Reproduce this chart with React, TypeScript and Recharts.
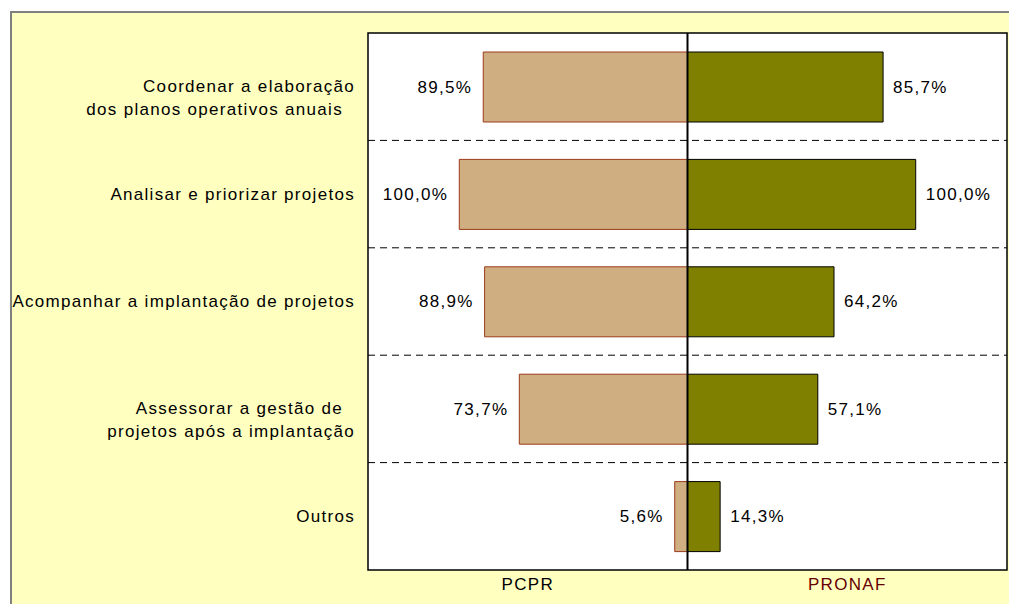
import React from "react";
import {
  BarChart,
  Bar,
  XAxis,
  YAxis,
  CartesianGrid,
  ReferenceLine,
  ReferenceArea,
  LabelList,
} from "recharts";

const categories: string[] = [
  "Coordenar a elaboração\ndos planos operativos anuais  ",
  "Analisar e priorizar projetos",
  "Acompanhar a implantação de projetos",
  "Assessorar a gestão de  \nprojetos após a implantação",
  "Outros",
];
const pcprValues: number[] = [89.5, 100.0, 88.9, 73.7, 5.6];
const pronafValues: number[] = [85.7, 100.0, 64.2, 57.1, 14.3];
const seriesNames: string[] = ["PCPR", "PRONAF"];
const seriesTickValues: number[] = [-70, 70];

const data = categories.map((c, i) => ({
  cat: c,
  PCPR: -pcprValues[i],
  PRONAF: pronafValues[i],
}));

const FONT = "'Liberation Sans', Arial, sans-serif";
const FS = 17;
const LS = 1.3;

const fmt = (v: number) => Math.abs(v).toFixed(1).replace(".", ",") + "%";

const CategoryTick = (props: any) => {
  const { x, y, payload } = props;
  const lines = String(payload.value).split("\n");
  return (
    <g>
      {lines.map((l, i) => (
        <text
          key={i}
          x={x}
          y={y + i * 23}
          textAnchor="end"
          dominantBaseline="central"
          fontFamily={FONT}
          fontSize={FS}
          fill="#000"
          style={{ letterSpacing: LS, whiteSpace: "pre" }}
        >
          {l}
        </text>
      ))}
    </g>
  );
};

const SeriesTick = (props: any) => {
  const { x, y, payload } = props;
  const i = seriesTickValues.indexOf(payload.value);
  return (
    <text
      x={x}
      y={y}
      textAnchor="middle"
      dominantBaseline="central"
      fontFamily={FONT}
      fontSize={FS}
      fill={i === 1 ? "#660000" : "#000"}
      style={{ letterSpacing: LS }}
    >
      {seriesNames[i]}
    </text>
  );
};

const leftLabel = (props: any) => {
  const { x, y, width, height, value } = props;
  const left = Math.min(x, x + width);
  return (
    <text
      x={left - 11}
      y={y + height / 2}
      textAnchor="end"
      dominantBaseline="central"
      fontFamily={FONT}
      fontSize={FS}
      fill="#000"
      style={{ letterSpacing: LS }}
    >
      {fmt(value)}
    </text>
  );
};

const rightLabel = (props: any) => {
  const { x, y, width, height, value } = props;
  const right = Math.max(x, x + width);
  return (
    <text
      x={right + 10}
      y={y + height / 2}
      textAnchor="start"
      dominantBaseline="central"
      fontFamily={FONT}
      fontSize={FS}
      fill="#000"
      style={{ letterSpacing: LS }}
    >
      {fmt(value)}
    </text>
  );
};

// dashed separators on the boundaries between category bands
const bandBoundaries = (args: any): number[] => {
  const off = (args && args.offset) || {};
  const top = typeof off.top === "number" ? off.top : 33;
  const h = typeof off.height === "number" ? off.height : 537;
  const n = categories.length;
  return categories.slice(1).map((_, k) => top + (h * (k + 1)) / n);
};

export default function App() {
  return (
    <div
      style={{
        position: "relative",
        width: 1009,
        height: 604,
        overflow: "hidden",
        background: "#ffffff",
      }}
    >
      <style>{"body{margin:0;overflow:hidden}"}</style>
      <div
        style={{
          position: "absolute",
          left: 10,
          top: 11,
          width: 1100,
          height: 700,
          background: "#FFFFC0",
          border: "2px solid #808080",
          boxSizing: "border-box",
        }}
      />
      <div style={{ position: "absolute", left: 0, top: 0 }}>
        <BarChart
          width={1009}
          height={604}
          data={data}
          layout="vertical"
          stackOffset="sign"
          margin={{ top: 33, right: 2, bottom: 0, left: 0 }}
        >
          <CartesianGrid
            horizontal={true}
            vertical={false}
            fill="#ffffff"
            fillOpacity={1}
            stroke="#000"
            strokeDasharray="7 5"
            horizontalCoordinatesGenerator={bandBoundaries}
          />
          <XAxis
            type="number"
            domain={[-140, 140]}
            ticks={seriesTickValues}
            height={34}
            axisLine={false}
            tickLine={false}
            tickMargin={8}
            tick={<SeriesTick />}
          />
          <YAxis
            type="category"
            dataKey="cat"
            width={368}
            axisLine={false}
            tickLine={false}
            tickMargin={7}
            interval={0}
            tick={<CategoryTick />}
          />
          <ReferenceArea
            x1={-140}
            x2={140}
            fill="none"
            stroke="#000"
            strokeWidth={1.5}
          />
          <Bar
            dataKey="PCPR"
            stackId="s"
            barSize={70}
            fill="#CFAF82"
            stroke="#9C3A1A"
            strokeWidth={1}
            isAnimationActive={false}
          >
            <LabelList dataKey="PCPR" content={leftLabel} />
          </Bar>
          <Bar
            dataKey="PRONAF"
            stackId="s"
            barSize={70}
            fill="#808000"
            stroke="#000"
            strokeWidth={1}
            isAnimationActive={false}
          >
            <LabelList dataKey="PRONAF" content={rightLabel} />
          </Bar>
          <ReferenceLine x={0} stroke="#000" strokeWidth={2} />
        </BarChart>
      </div>
    </div>
  );
}
